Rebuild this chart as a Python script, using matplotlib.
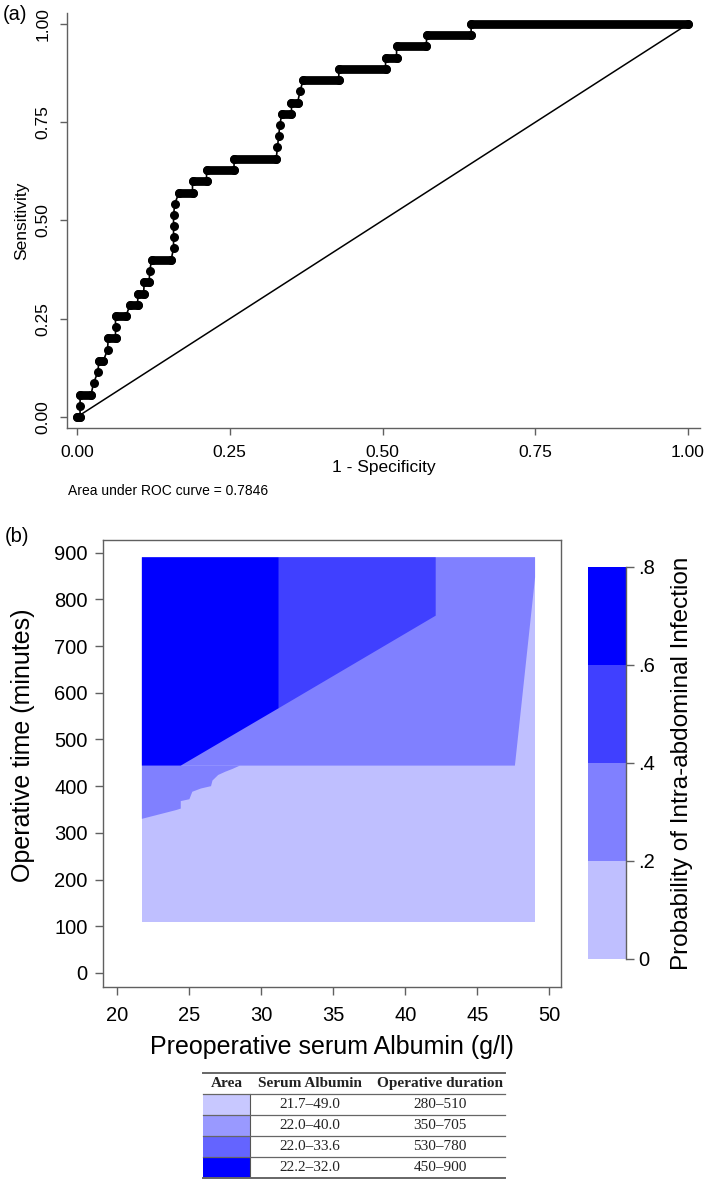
import matplotlib
matplotlib.use('Agg')
import matplotlib.pyplot as plt
from matplotlib.colors import ListedColormap, BoundaryNorm
from matplotlib.cm import ScalarMappable

plt.rcParams['font.family'] = ['Liberation Sans', 'DejaVu Sans']

# ---------------- Panel (a): ROC curve data ----------------
roc_fpr = [0.000, 0.005, 0.005, 0.005, 0.023, 0.027, 0.034, 0.036, 0.043, 0.050,
           0.051, 0.063, 0.063, 0.063, 0.080, 0.087, 0.099, 0.100, 0.109, 0.110,
           0.118, 0.119, 0.122, 0.154, 0.158, 0.158, 0.158, 0.158, 0.160, 0.167,
           0.189, 0.189, 0.212, 0.212, 0.257, 0.257, 0.326, 0.328, 0.330, 0.332,
           0.335, 0.351, 0.351, 0.361, 0.365, 0.370, 0.428, 0.429, 0.505, 0.505,
           0.523, 0.523, 0.571, 0.573, 0.645, 0.645, 1.000]
roc_sens = [0.000, 0.000, 0.029, 0.057, 0.057, 0.086, 0.114, 0.143, 0.143, 0.171,
            0.200, 0.200, 0.229, 0.257, 0.257, 0.286, 0.286, 0.314, 0.314, 0.343,
            0.343, 0.371, 0.400, 0.400, 0.429, 0.457, 0.486, 0.514, 0.543, 0.571,
            0.571, 0.600, 0.600, 0.629, 0.629, 0.657, 0.657, 0.686, 0.714, 0.743,
            0.771, 0.771, 0.800, 0.800, 0.829, 0.857, 0.857, 0.886, 0.886, 0.914,
            0.914, 0.943, 0.943, 0.971, 0.971, 1.000, 1.000]
chance_x = [0.0, 1.0]
chance_y = [0.0, 1.0]
auc_value = 0.7846
roc_ticks = [0.0, 0.25, 0.50, 0.75, 1.00]
roc_ticklabels = ['0.00', '0.25', '0.50', '0.75', '1.00']

# ---------------- Panel (b): contour zones ----------------
albumin_ticks = [20, 25, 30, 35, 40, 45, 50]
optime_ticks = [0, 100, 200, 300, 400, 500, 600, 700, 800, 900]
prob_levels = [0, 0.2, 0.4, 0.6, 0.8]
prob_labels = ['0', '.2', '.4', '.6', '.8']
prob_colors = ['#bfbfff', '#8080ff', '#4040ff', '#0000ff']

zone0_alb = [21.7, 49.0, 49.0, 21.7]
zone0_time = [110, 110, 890, 890]
zone1_alb = [21.7, 47.6, 49.0, 49.0, 21.7]
zone1_time = [444, 444, 847, 890, 890]
zone1b_alb = [21.7, 24.1, 24.4, 24.4, 25.0, 25.2, 25.8, 26.5, 26.6, 27.0, 27.5, 28.0, 28.5, 21.7]
zone1b_time = [330, 349, 352, 368, 372, 388, 395, 400, 412, 424, 431, 437, 444, 444]
zone2_alb = [31.2, 42.1, 42.1, 31.2]
zone2_time = [567, 765, 890, 890]
zone3_alb = [21.7, 24.4, 31.2, 31.2, 21.7]
zone3_time = [444, 444, 567, 890, 890]

# ---------------- Table ----------------
table_header = ['Area', 'Serum Albumin', 'Operative duration']
table_albumin = ['21.7\u201349.0', '22.0\u201340.0', '22.0\u201333.6', '22.2\u201332.0']
table_duration = ['280\u2013510', '350\u2013705', '530\u2013780', '450\u2013900']
table_colors = ['#c8c8ff', '#9999ff', '#6464ff', '#0000ff']

W, H = 709, 1183
fig = plt.figure(figsize=(W / 100, H / 100), dpi=100)
axis_col = '#606060'


def fpos(x0, y0, x1, y1):
    return [x0 / W, 1 - y1 / H, (x1 - x0) / W, (y1 - y0) / H]


# ---- Panel (a)
ax1 = fig.add_axes(fpos(67, 13, 700, 428))
ax1.set_xlim(-0.0164, 1.0196)
ax1.set_ylim(-0.028, 1.028)
ax1.plot(chance_x, chance_y, color='black', lw=1.1)
ax1.plot(roc_fpr, roc_sens, color='black', lw=1.2, clip_on=False)
for i in range(len(roc_fpr) - 1):
    if roc_sens[i] == roc_sens[i + 1]:
        ax1.plot(roc_fpr[i:i + 2], roc_sens[i:i + 2], color='black', lw=6.3,
                 solid_capstyle='round', clip_on=False)
ax1.plot(roc_fpr, roc_sens, 'o', color='black', ms=6.5, mew=0, clip_on=False)
for s in ['top', 'right']:
    ax1.spines[s].set_visible(False)
for s in ['left', 'bottom']:
    ax1.spines[s].set_color(axis_col)
    ax1.spines[s].set_linewidth(1.0)
ax1.set_xticks(roc_ticks)
ax1.set_xticklabels(roc_ticklabels)
ax1.set_yticks(roc_ticks)
ax1.set_yticklabels(roc_ticklabels, rotation=90, va='center')
ax1.tick_params(direction='out', length=5, width=1, color=axis_col,
                labelsize=12.5, pad=7)
ax1.set_xlabel('1 - Specificity', fontsize=12.5, va='center')
ax1.xaxis.set_label_coords(0.5, -(468 - 428) / 415)
ax1.set_ylabel('Sensitivity', fontsize=12.5, va='center')
ax1.yaxis.set_label_coords((22 - 67) / 633, 0.5)

fig.text(3 / W, 1 - 15 / H, '(a)', fontsize=14.5, va='center', ha='left')
fig.text(68 / W, 1 - 491 / H, 'Area under ROC curve = %.4f' % auc_value,
         fontsize=10, va='center', ha='left')

# ---- Panel (b)
ax2 = fig.add_axes(fpos(103, 540, 561, 987))
ax2.set_xlim(19.0, 50.8)
ax2.set_ylim(-30, 927)
ax2.fill(zone0_alb, zone0_time, color=prob_colors[0], lw=0)
ax2.fill(zone1_alb, zone1_time, color=prob_colors[1], lw=0)
ax2.fill(zone1b_alb, zone1b_time, color=prob_colors[1], lw=0)
ax2.fill(zone2_alb, zone2_time, color=prob_colors[2], lw=0)
ax2.fill(zone3_alb, zone3_time, color=prob_colors[3], lw=0)
for s in ax2.spines.values():
    s.set_color(axis_col)
    s.set_linewidth(1.0)
ax2.set_xticks(albumin_ticks)
ax2.set_yticks(optime_ticks)
ax2.tick_params(direction='out', length=6, width=1, color=axis_col,
                labelsize=14.5)
ax2.tick_params(axis='x', pad=8)
ax2.tick_params(axis='y', pad=5)
ax2.set_xlabel('Preoperative serum Albumin (g/l)', fontsize=18, va='center')
ax2.xaxis.set_label_coords(0.5, -(1047 - 987) / 447)
ax2.set_ylabel('Operative time (minutes)', fontsize=18, va='center')
ax2.yaxis.set_label_coords((23 - 103) / 458, (987 - 745) / 447)

fig.text(5 / W, 1 - 537 / H, '(b)', fontsize=14.5, va='center', ha='left')

# ---- Colorbar
cax = fig.add_axes(fpos(588, 567, 626, 959))
sm = ScalarMappable(norm=BoundaryNorm(prob_levels, len(prob_colors)),
                    cmap=ListedColormap(prob_colors))
cb = fig.colorbar(sm, cax=cax, ticks=prob_levels)
cb.set_ticklabels(prob_labels)
cb.outline.set_visible(False)
cax.plot([1, 1], [0, 1], transform=cax.transAxes, color=axis_col, lw=1.0,
         clip_on=False)
cax.tick_params(direction='out', length=6, width=1, color=axis_col,
                labelsize=14.5, pad=3)
cax.set_ylabel('Probability of Intra-abdominal Infection', fontsize=17.5,
               va='center', rotation=90)
cax.yaxis.set_label_coords((682 - 588) / 38, 0.5)

# ---- Table
tax = fig.add_axes(fpos(203, 1073, 505, 1178))
tax.set_xlim(0, 1)
tax.set_ylim(0, 5)
tax.axis('off')
serif = ['Liberation Serif', 'DejaVu Serif']
col_x = [(227 - 203) / 302, (310 - 203) / 302, (440 - 203) / 302]
cell_w = (250 - 203) / 302
for j, h in enumerate(table_header):
    tax.text(col_x[j], 4.5, h, family=serif, fontweight='bold', fontsize=11,
             ha='center', va='center', color='#222222')
for i in range(len(table_albumin)):
    yb = 3 - i
    tax.fill([0, cell_w, cell_w, 0], [yb, yb, yb + 1, yb + 1],
             color=table_colors[i], lw=0)
    tax.text(col_x[1], yb + 0.5, table_albumin[i], family=serif, fontsize=11,
             ha='center', va='center', color='#222222')
    tax.text(col_x[2], yb + 0.5, table_duration[i], family=serif, fontsize=11,
             ha='center', va='center', color='#222222')
tax.plot([cell_w, cell_w], [0, 4], color='#555555', lw=0.8)
for k, yl in enumerate([5, 4, 3, 2, 1, 0]):
    tax.plot([0, 1], [yl, yl], color='#666666', lw=1.4 if k in (0, 5) else 0.9,
             clip_on=False)

fig.savefig('out.png', dpi=100)
